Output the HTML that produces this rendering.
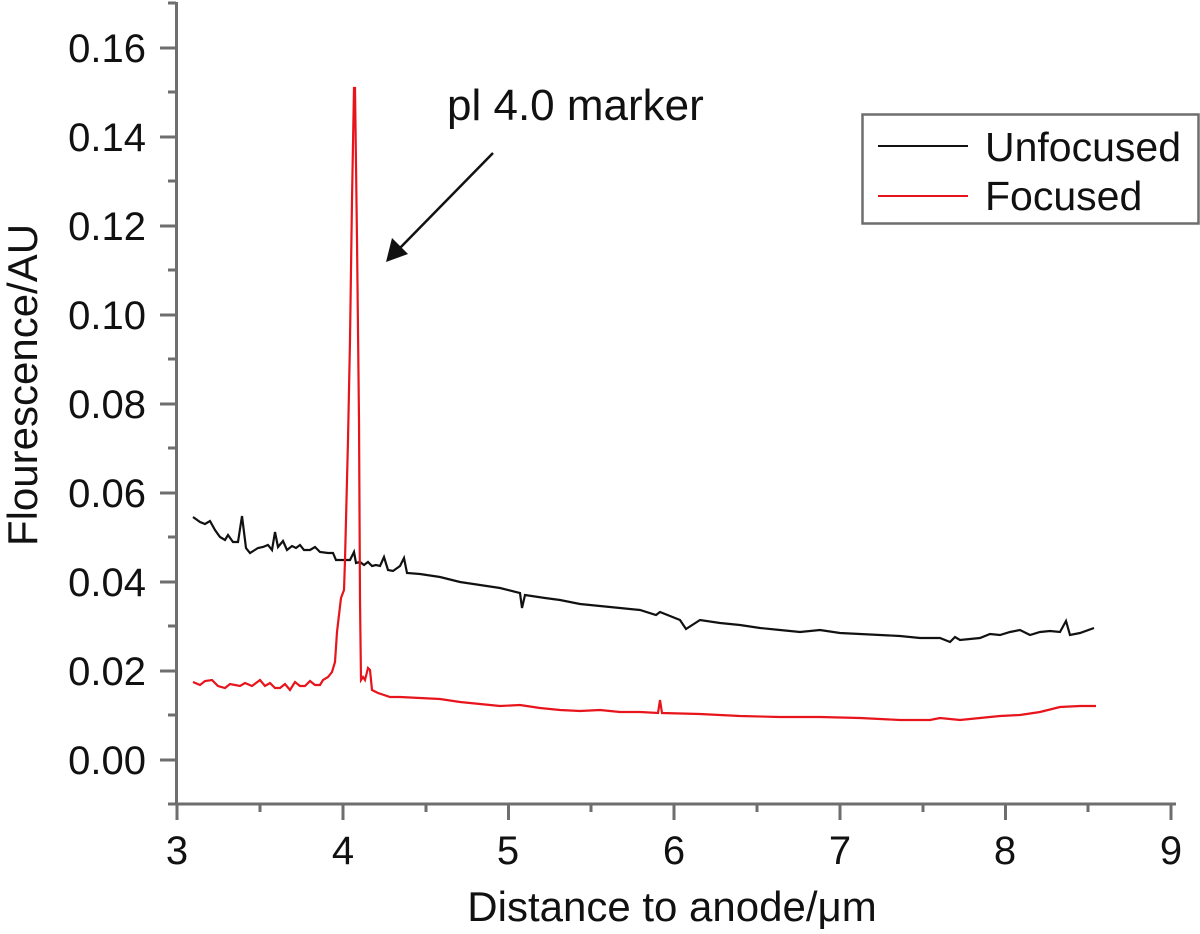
<!DOCTYPE html>
<html><head><meta charset="utf-8"><style>body{margin:0;background:#fff}svg{display:block}</style></head><body>
<svg width="1200" height="934" viewBox="0 0 1200 934" xmlns="http://www.w3.org/2000/svg" font-family="Liberation Sans, sans-serif">
<g stroke="#6e6e6e" stroke-width="3" fill="none">
<path d="M176.5 2 V804 H1176"/>
<path d="M160 760H176M160 671H176M160 582H176M160 493H176M160 404H176M160 315H176M160 226H176M160 137H176M160 48H176"/>
<path d="M168 804H176M168 715H176M168 626H176M168 537H176M168 448H176M168 359H176M168 270H176M168 181H176M168 92H176M168 3H176"/>
<path d="M177 804V820M343 804V820M508.5 804V820M674 804V820M840 804V820M1005.5 804V820M1171 804V820"/>
<path d="M260 804V812M426 804V812M591 804V812M757 804V812M923 804V812M1088 804V812"/>
</g>
<g font-size="40" fill="#111" text-anchor="end">
<text x="146" y="774">0.00</text><text x="146" y="685">0.02</text><text x="146" y="596">0.04</text><text x="146" y="507">0.06</text><text x="146" y="418">0.08</text><text x="146" y="329">0.10</text><text x="146" y="240">0.12</text><text x="146" y="151">0.14</text><text x="146" y="62">0.16</text>
</g>
<g font-size="40" fill="#111" text-anchor="middle">
<text x="177" y="864">3</text><text x="343" y="864">4</text><text x="508" y="864">5</text><text x="674" y="864">6</text><text x="840" y="864">7</text><text x="1005" y="864">8</text><text x="1171" y="864">9</text>
</g>
<g font-size="42" fill="#111" text-anchor="middle">
<text x="672" y="921">Distance to anode/μm</text>
<text transform="translate(37,385) rotate(-90)">Flourescence/AU</text>
</g>
<polyline fill="none" stroke="#111" stroke-width="2.2" points="193,517 200,522 205,524 210,521 215,530 220,537 225,540 228,535 233,542 238,542 242,516 246,548 250,553 258,548 263,547 268,545 272,550 275,532 278,547 283,541 287,550 292,546 296,548 300,545 304,550 310,550 315,547 320,552 328,553 333,553 336,560 343,560 350,560 354,552 356,563 360,562 364,565 368,562 372,566 376,565 380,566 384,557 388,570 393,571 400,566 404,558 407,573 420,574 440,577 460,582 480,585 500,588 520,593 522,608 525,595 545,598 560,600 580,604 600,606 620,608 640,610 656,615 660,612 680,620 686,629 700,620 720,623 740,625 760,628 780,630 800,632 820,630 840,633 860,634 880,635 900,636 920,638 940,638 950,642 955,637 960,640 980,638 990,634 1000,635 1010,632 1020,630 1030,635 1040,632 1050,631 1060,632 1066,621 1070,635 1080,633 1094,628"/>
<polyline fill="none" stroke="#e8141b" stroke-width="2.2" points="193,682 200,685 205,681 212,680 218,686 225,688 230,684 240,686 245,683 252,686 260,680 265,686 270,683 275,688 280,688 285,684 290,690 295,682 300,686 305,686 310,681 315,685 320,685 323,680 328,677 332,672 335,662 337,632 341,598 344,590 345,560 348,440 350,340 352,200 354,88 355,88 357,240 359,420 360,600 361,680 363,677 365,680 368,668 370,670 372,690 378,693 390,697 400,697 420,698 440,699 460,702 480,704 500,706 520,705 540,708 560,710 580,711 600,710 620,712 640,712 658,713 660,700 662,713 700,714 740,716 780,717 820,717 860,718 900,720 930,720 940,718 960,720 980,718 1000,716 1020,715 1040,712 1060,707 1080,706 1096,706"/>
<line x1="493" y1="153" x2="398" y2="250" stroke="#111" stroke-width="2.5"/>
<polygon points="386,262 392,238 408,254" fill="#111"/>
<text x="447" y="120" font-size="44" fill="#111">pl 4.0 marker</text>
<rect x="862.5" y="114.5" width="336" height="109" fill="#fff" stroke="#6e6e6e" stroke-width="2.5"/>
<line x1="878" y1="146" x2="968" y2="146" stroke="#111" stroke-width="2"/>
<line x1="878" y1="196" x2="968" y2="196" stroke="#e8141b" stroke-width="2"/>
<g font-size="41" fill="#111"><text x="985" y="161">Unfocused</text><text x="985" y="210">Focused</text></g>
</svg>
</body></html>
